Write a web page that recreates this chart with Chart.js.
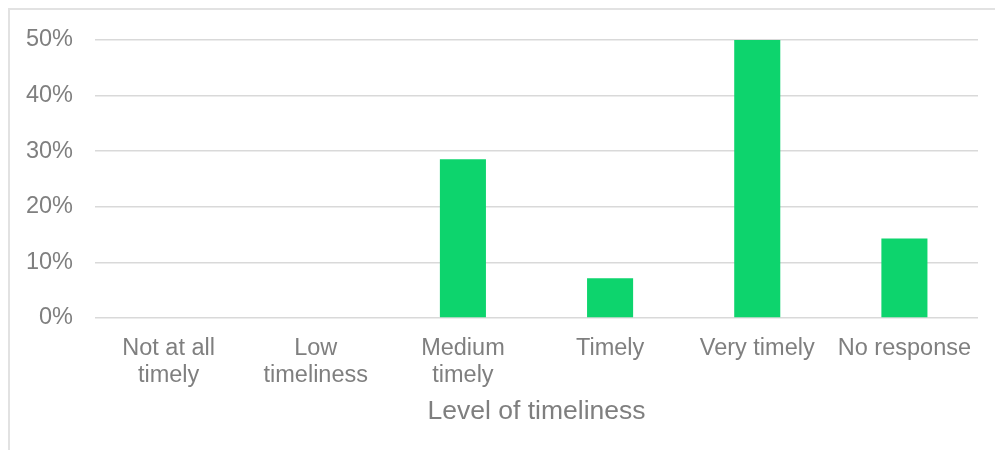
<!DOCTYPE html>
<html>
<head>
<meta charset="utf-8">
<script src="https://cdn.jsdelivr.net/npm/chart.js@4/dist/chart.umd.min.js"></script>
<style>
  html, body { margin: 0; padding: 0; background: #fff; overflow: hidden; }
  #wrap { position: relative; width: 995px; height: 450px; }
  #frame { position: absolute; left: 8px; top: 8px; width: 1100px; height: 600px;
           border-left: 2px solid #e2e2e2; border-top: 2px solid #e2e2e2; }
  #c { position: absolute; left: 0; top: 0; }
</style>
</head>
<body>
<div id="wrap">
  <div id="frame"></div>
  <canvas id="c" width="995" height="450"></canvas>
</div>
<script>
// Share of respondents by level of timeliness
const categories = [["Not at all", "timely"], ["Low", "timeliness"], ["Medium", "timely"], "Timely", "Very timely", "No response"];
const shares = [0, 0, 0.2857, 0.0714, 0.5, 0.1429];
const axisTitle = "Level of timeliness";

const textColor = "#7f7f7f";
const gridColor = "#d9d9d9";
const family = "'Liberation Sans', Arial, sans-serif";

new Chart(document.getElementById("c"), {
  type: "bar",
  data: {
    labels: categories,
    datasets: [{
      data: shares,
      backgroundColor: "#0dd46d",
      borderWidth: 0,
      categoryPercentage: 1,
      barPercentage: 0.313
    }]
  },
  options: {
    responsive: false,
    animation: false,
    layout: { padding: { left: 0, right: 17, top: 40, bottom: 0 } },
    plugins: { legend: { display: false }, tooltip: { enabled: false } },
    scales: {
      x: {
        grid: { display: false, drawTicks: false },
        border: { display: false },
        ticks: {
          color: textColor,
          font: { family, size: 23.5, lineHeight: 1.15 },
          padding: 17,
          maxRotation: 0,
          autoSkip: false
        },
        title: {
          display: true,
          text: axisTitle,
          color: textColor,
          font: { family, size: 26.5, lineHeight: 1.2 },
          padding: { top: 0, bottom: 22 }
        },
        afterFit(scale) { scale.height = 132; }
      },
      y: {
        min: 0,
        max: 0.5,
        grid: { color: gridColor, lineWidth: 1.5, drawTicks: false },
        border: { display: false },
        ticks: {
          stepSize: 0.1,
          color: textColor,
          font: { family, size: 23.5 },
          padding: 22,
          callback: v => Math.round(v * 100) + "%"
        },
        afterFit(scale) { scale.width = 95; }
      }
    }
  }
});
</script>
</body>
</html>
